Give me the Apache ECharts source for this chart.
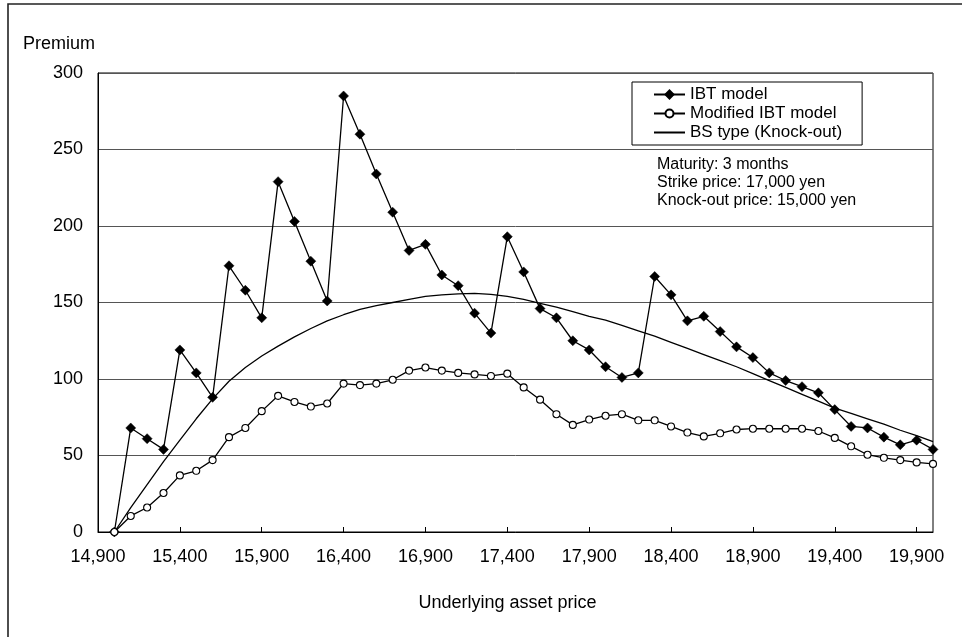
<!DOCTYPE html>
<html>
<head>
<meta charset="utf-8">
<title>Premium vs underlying asset price</title>
<script src="https://cdn.jsdelivr.net/npm/echarts@6/dist/echarts.min.js"></script>
<style>
  html, body { margin: 0; padding: 0; background: #fff; }
  #chart { width: 962px; height: 637px; }
</style>
</head>
<body>
<div id="chart"></div>
<script>
// Underlying asset prices, 14,900 to 20,000 in steps of 100
const prices = [
  14900, 15000, 15100, 15200, 15300, 15400, 15500, 15600, 15700, 15800,
  15900, 16000, 16100, 16200, 16300, 16400, 16500, 16600, 16700, 16800,
  16900, 17000, 17100, 17200, 17300, 17400, 17500, 17600, 17700, 17800,
  17900, 18000, 18100, 18200, 18300, 18400, 18500, 18600, 18700, 18800,
  18900, 19000, 19100, 19200, 19300, 19400, 19500, 19600, 19700, 19800,
  19900, 20000
];

// Option premium, IBT model
const ibtModel = [
  null, 0, 68, 61, 54, 119, 104, 88, 174, 158,
  140, 229, 203, 177, 151, 285, 260, 234, 209, 184,
  188, 168, 161, 143, 130, 193, 170, 146, 140, 125,
  119, 108, 101, 104, 167, 155, 138, 141, 131, 121,
  114, 104, 99, 95, 91, 80, 69, 68, 62, 57,
  60, 54
];

// Option premium, modified IBT model
const modifiedIbtModel = [
  null, 0, 10.5, 16, 25.5, 37, 40, 47, 62, 68,
  79, 89, 85, 82, 84, 97, 96, 97, 99.5, 105.5,
  107.5, 105.5, 104, 103, 102, 103.5, 94.5, 86.5, 77, 70,
  73.5, 76, 77, 73, 73, 69, 65, 62.5, 64.5, 67,
  67.5, 67.5, 67.5, 67.5, 66, 61.5, 56, 50.5, 48.5, 47,
  45.5, 44.5
];

// Black-Scholes knock-out premium
const bsKnockOut = [
  null, 0, 16, 31, 46, 60, 74, 87, 98.5, 107.5,
  115, 121.5, 127.5, 133, 138, 142, 145.5, 148, 150, 152,
  154, 155, 155.7, 156, 155.3, 154, 152, 149.5, 147, 144,
  141, 138.5, 135, 131.5, 128, 124, 120, 116, 112, 108,
  103.5, 99, 94.5, 90, 85.5, 81, 77.5, 74, 70.5, 66.5,
  63, 59
];

const seriesNames = ['IBT model', 'Modified IBT model', 'BS type (Knock-out)'];
const notes = ['Maturity: 3 months', 'Strike price: 17,000 yen', 'Knock-out price: 15,000 yen'];

const FONT = '"Liberation Sans", Arial, Helvetica, sans-serif';
const fmt = v => Number(v).toLocaleString('en-US');

const chart = echarts.init(document.getElementById('chart'), null, { renderer: 'canvas' });

chart.setOption({
  animation: false,
  backgroundColor: '#fff',
  textStyle: { fontFamily: FONT, color: '#000' },
  grid: {
    left: 98, right: 29, top: 73, bottom: 105,
    show: true, borderColor: '#000', borderWidth: 1, backgroundColor: 'transparent'
  },
  legend: {
    left: 632, top: 82,
    orient: 'vertical',
    data: [
      { name: seriesNames[0] },
      { name: seriesNames[1] },
      // plain line key: hide the marker for the curve without symbols
      { name: seriesNames[2], itemStyle: { color: 'rgba(0,0,0,0)', borderWidth: 0, opacity: 0 } }
    ],
    itemWidth: 31, itemHeight: 10, itemGap: 2,
    padding: [4, 20, 4, 21],
    backgroundColor: '#fff', borderColor: '#000', borderWidth: 1,
    textStyle: { fontFamily: FONT, fontSize: 17, lineHeight: 17, color: '#000' },
    selectedMode: false
  },
  xAxis: {
    type: 'category',
    data: prices,
    boundaryGap: false,
    name: 'Underlying asset price',
    nameLocation: 'middle',
    nameGap: 62,
    nameTextStyle: { fontFamily: FONT, fontSize: 18, color: '#000', padding: [0, 16, 0, 0] },
    axisLine: { show: true, lineStyle: { color: '#000', width: 1 } },
    axisTick: { show: true, inside: true, length: 5, interval: 4, lineStyle: { color: '#000' } },
    axisLabel: { interval: 4, margin: 16, fontSize: 18, color: '#000', fontFamily: FONT, formatter: fmt },
    splitLine: { show: false }
  },
  yAxis: {
    type: 'value',
    min: 0, max: 300, interval: 50,
    name: 'Premium',
    nameLocation: 'end',
    nameGap: 20,
    nameTextStyle: { fontFamily: FONT, fontSize: 18, color: '#000', align: 'right', padding: [0, 3, 0, 0] },
    axisLine: { show: true, lineStyle: { color: '#000', width: 1 } },
    axisTick: { show: false },
    axisLabel: { margin: 15, fontSize: 18, color: '#000', fontFamily: FONT },
    splitLine: { show: true, lineStyle: { color: '#555', width: 1 } }
  },
  series: [
    {
      name: seriesNames[2],
      type: 'line',
      data: bsKnockOut,
      symbol: 'none',
      lineStyle: { color: '#000', width: 1.3 },
      itemStyle: { color: '#000' },
      z: 2
    },
    {
      name: seriesNames[0],
      type: 'line',
      data: ibtModel,
      symbol: 'diamond',
      symbolSize: 10,
      showAllSymbol: true,
      lineStyle: { color: '#000', width: 1.3 },
      itemStyle: { color: '#000', borderColor: '#000', borderWidth: 0.5 },
      z: 3
    },
    {
      name: seriesNames[1],
      type: 'line',
      data: modifiedIbtModel,
      symbol: 'circle',
      symbolSize: 7,
      showAllSymbol: true,
      lineStyle: { color: '#000', width: 1.3 },
      itemStyle: { color: '#fff', borderColor: '#000', borderWidth: 1.1 },
      z: 4
    }
  ],
  graphic: [
    {
      // outer frame around the whole figure
      type: 'rect',
      shape: { x: 8, y: 4, width: 1000, height: 700 },
      style: { fill: 'none', stroke: '#222', lineWidth: 1.6 },
      silent: true
    },
    {
      type: 'text',
      left: 657, top: 156,
      style: {
        text: notes.join('\n'),
        font: '16px ' + FONT,
        lineHeight: 18,
        fill: '#000'
      },
      silent: true
    }
  ]
});
</script>
</body>
</html>
